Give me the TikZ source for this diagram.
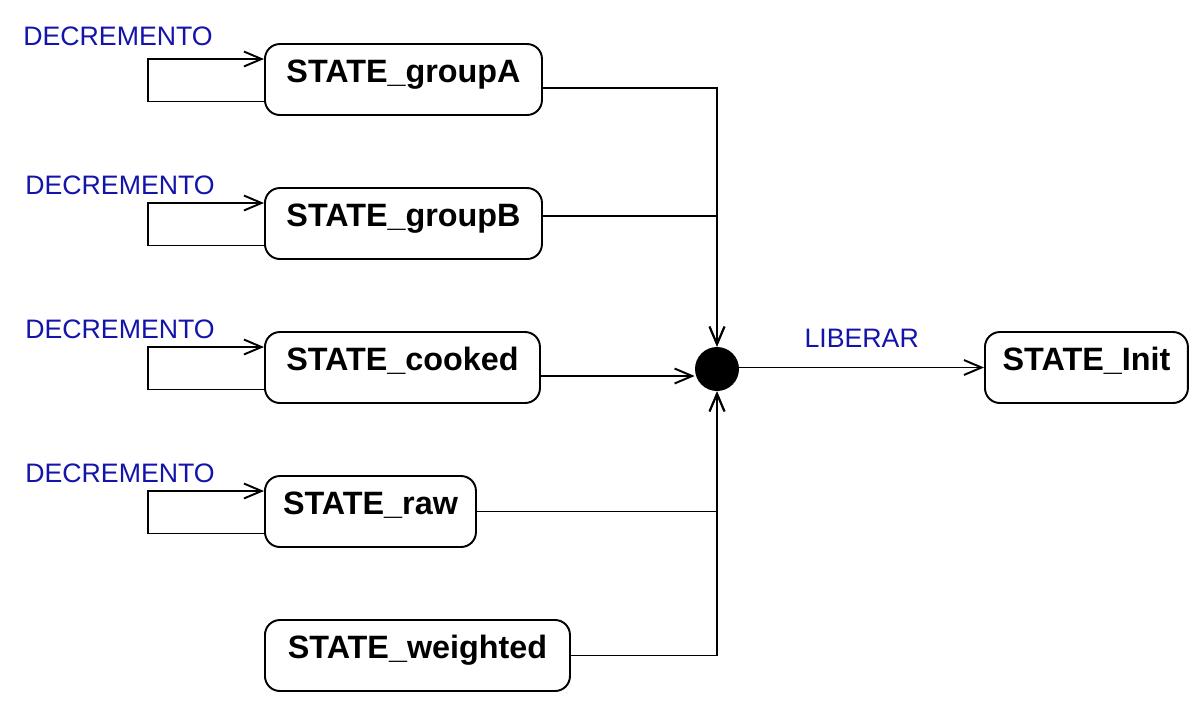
\documentclass[tikz,border=0pt]{standalone}
\usepackage{fontspec}
\setmainfont{Liberation Sans}
\usetikzlibrary{arrows.meta}
\usetikzlibrary{calc}
\usetikzlibrary{positioning}
\definecolor{guardblue}{RGB}{20,20,170}
\tikzset{basic state/.style={draw,rectangle,rounded corners=8.5pt,line width=1.1pt}}
\tikzset{state box/.style={basic state,
                           inner xsep=0pt,
                           inner ysep=0pt,
                           text height=0.77cm,
                           text depth=0.65cm,
                           font=\fontsize{18.4}{21}\selectfont\bfseries}}
\tikzset{edge/.style={draw,
                      line width=1.1pt,
                      -{Straight Barb[length=10pt,width=8.5pt]}}}
\tikzset{guard/.style={text=guardblue,font=\fontsize{15.2}{18}\selectfont}}

\begin{document}
\begin{tikzpicture}
    [
      x=0.02cm,
      y=-0.02cm,
      junction/.style={circle,
      fill=black,
      inner sep=0pt,
      minimum size=0.88cm},
    ]
    \useasboundingbox (0,0) rectangle (1200,708);

    % states
    \foreach \n/\t/\y/\w in
    {
      A/groupA/79.5/277,
      B/groupB/223.5/277,
      C/cooked/367.5/275,
      R/raw/511.5/211,
      W/weighted/655.5/305
    }
    {
    \node [state box, minimum width=\w*0.02cm, anchor=west] (\n) at (264,\y) {STATE\_\t};
    }
    \node [state box, minimum width=4.06cm, anchor=west] (I) at (984,367.5) {STATE\_Init};
    \node [junction] (J) at (717,369) {};

    % self loops
    \foreach \n/\lx/\ly in {A/118/36, B/120/185, C/120/329, R/120/473}
    {
    \draw [edge] ($(\n.west)+(0,22)$) -- ++(-116,0) |- ($(\n.west)+(0,-20.5)$);
    \node [guard] (D\n) at (\lx,\ly) {DECREMENTO};
    }

    % edges
    \draw [edge] ($(A.east)+(0,8.5)$) -| (J.north);
    \draw [edge] ($(B.east)+(0,-7.5)$) -| (J.north);
    \draw [edge] ($(C.east)+(0,8.5)$) coordinate (c1) -- (c1 -| J.west);
    \draw [edge] (R.east) -| (J.south);
    \draw [edge] (W.east) -| (J.south);
    \draw [edge] (J.east |- I.west) -- (I.west)
      node [guard, midway, yshift=0.59cm] (L) {LIBERAR};

  \end{tikzpicture}
\end{document}
